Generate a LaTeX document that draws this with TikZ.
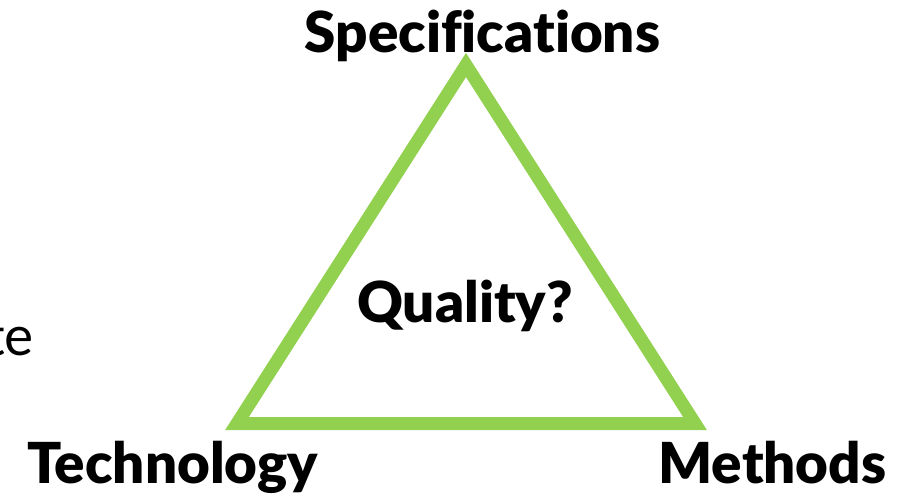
\documentclass[tikz,border=0pt]{standalone}
\usepackage{fontspec}
\setmainfont{Lato}[BoldFont={Lato Black},Ligatures=NoCommon]
\definecolor{leafgreen}{HTML}{92D050}
\begin{document}
\begin{tikzpicture}[x=1pt,y=-1pt,
  label/.style={inner sep=0pt,anchor=base,font=\fontsize{56.5}{62}\selectfont\bfseries},
  edge/.style={draw=leafgreen,line width=13pt,line join=miter}]
\useasboundingbox (0,0) rectangle (902,494);
% corners of the triangle
\coordinate (top) at (466,65);
\coordinate (bl) at (237,423.5);
\coordinate (br) at (695,423.5);
\draw[edge] (top) -- (br) -- (bl) -- cycle;
% labels
\node[label] (spec) at (482.5,53) {Specifications};
\node[label] (tech) at (172.5,483) {Technology};
\node[label] (meth) at (772.5,483) {Methods};
\node[label] (qual) at (465,323) {Quality?};
\node[inner sep=0pt,anchor=base east,font=\fontsize{55}{60}\selectfont] (frag) at (34,355) {te};
\end{tikzpicture}
\end{document}
